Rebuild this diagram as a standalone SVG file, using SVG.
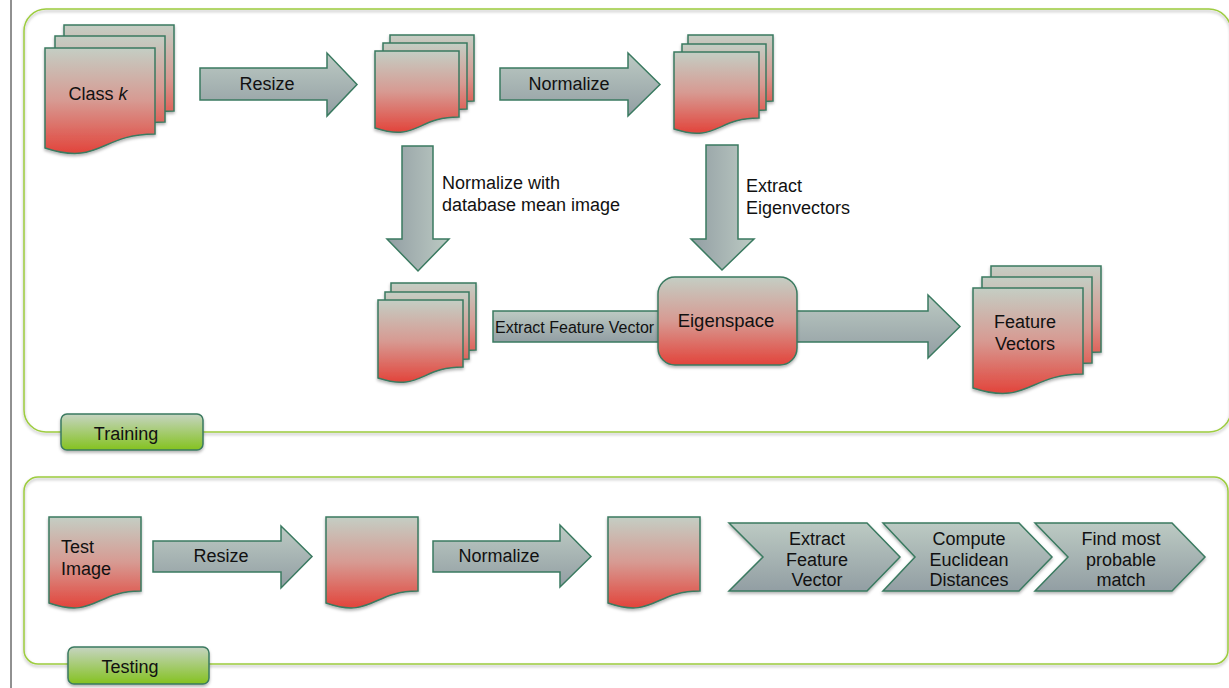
<svg xmlns="http://www.w3.org/2000/svg" width="1229" height="688" viewBox="0 0 1229 688">
<defs>
<linearGradient id="gPage" x1="0" y1="0" x2="0" y2="1">
<stop offset="0" stop-color="#c4cec4"/>
<stop offset="0.5" stop-color="#d79a92"/>
<stop offset="1" stop-color="#e2443b"/>
</linearGradient>
<linearGradient id="gArrowH" x1="0" y1="0" x2="0" y2="1">
<stop offset="0" stop-color="#bccac3"/>
<stop offset="1" stop-color="#929ea3"/>
</linearGradient>
<linearGradient id="gArrowV" x1="0" y1="0" x2="1" y2="0">
<stop offset="0" stop-color="#929ea3"/>
<stop offset="1" stop-color="#bccac3"/>
</linearGradient>
<linearGradient id="gLabel" x1="0" y1="0" x2="0" y2="1">
<stop offset="0" stop-color="#c6d4c2"/>
<stop offset="1" stop-color="#84c21f"/>
</linearGradient>
<filter id="sh" x="-10%" y="-10%" width="120%" height="130%">
<feDropShadow dx="0" dy="2" stdDeviation="1.5" flood-color="#000" flood-opacity="0.3"/>
</filter>
</defs>
<style>
.page{fill:url(#gPage);stroke:#3a7a60;stroke-width:1.5;}
.arr{fill:url(#gArrowH);stroke:#3a7a60;stroke-width:1.5;}
.arrv{fill:url(#gArrowV);stroke:#3a7a60;stroke-width:1.5;}
.frame{fill:none;stroke:#9dcc3f;stroke-width:1.5;}
.lbl{fill:url(#gLabel);stroke:#3a7a60;stroke-width:1.5;}
text{font-family:"Liberation Sans",Arial,sans-serif;font-size:18px;fill:#111;}
.c{text-anchor:middle;}
.sm{font-size:16px;}
</style>
<rect width="1229" height="688" fill="#fff"/>
<line x1="11" y1="0" x2="11" y2="688" stroke="#222" stroke-width="1"/>

<g id="training-frame">
<rect class="frame" x="24" y="9" width="1207" height="423" rx="22" filter="url(#sh)"/>
</g>
<g id="testing-frame">
<rect class="frame" x="24" y="477" width="1204" height="187" rx="14" filter="url(#sh)"/>
</g>

<g id="connectors">
<g id="arrow-resize-train">
<path class="arr" d="M200,68 H327 V53 L357,84.5 L327,116 V100 H200 Z"/>
<text class="c" x="267" y="90">Resize</text>
</g>
<g id="arrow-normalize-train">
<path class="arr" d="M500,68 H628 V53 L660,84.5 L628,116 V100 H500 Z"/>
<text class="c" x="569" y="90">Normalize</text>
</g>
<g id="arrow-normalize-mean">
<path class="arrv" d="M402,146 H433 V239 H449 L418,271 L387,239 H402 Z"/>
<text x="442" y="189">Normalize with</text>
<text x="442" y="211">database mean image</text>
</g>
<g id="arrow-extract-eigen">
<path class="arrv" d="M706,145 H738 V239 H754 L722,270 L691,239 H706 Z"/>
<text x="746" y="192">Extract</text>
<text x="746" y="214">Eigenvectors</text>
</g>
<g id="arrow-extract-feature">
<rect class="arr" x="493" y="311" width="220" height="31"/>
<text class="sm" x="495" y="333">Extract Feature Vector</text>
</g>
<g id="arrow-to-features">
<path class="arr" d="M730,311 H928 V295 L960,326.5 L928,358 V342 H730 Z"/>
</g>
<g id="arrow-resize-test">
<path class="arr" d="M153,541 H281 V526 L312,556.5 L281,588 V572 H153 Z"/>
<text class="c" x="221" y="562">Resize</text>
</g>
<g id="arrow-normalize-test">
<path class="arr" d="M433,541 H560 V525 L591,556.5 L560,587 V572 H433 Z"/>
<text class="c" x="499" y="562">Normalize</text>
</g>
</g>

<g id="class-k" filter="url(#sh)">
<path class="page" d="M64,25 h110 v86 C119,111 119,144 64,125 Z"/>
<path class="page" d="M55,36 h110 v86 C110,122 110,155 55,136 Z"/>
<path class="page" d="M45,48 h110 v86 C100,134 100,166 45,148 Z"/>
</g>
<text x="98" y="100" class="c">Class <tspan font-style="italic">k</tspan></text>

<g id="resized-stack" filter="url(#sh)">
<path class="page" d="M390,35 h84 v66 C432,101 432,126 390,112 Z"/>
<path class="page" d="M383,43 h84 v66 C425,109 425,134 383,120 Z"/>
<path class="page" d="M375,51 h84 v66 C417,117 417,142 375,128 Z"/>
</g>

<g id="normalized-stack" filter="url(#sh)">
<path class="page" d="M688,35 h85 v66 C730.5,101 730.5,126 688,112 Z"/>
<path class="page" d="M682,44 h84 v66 C724,110 724,135 682,121 Z"/>
<path class="page" d="M674,52 h85 v66 C716.5,118 716.5,143 674,129 Z"/>
</g>

<g id="mean-normalized-stack" filter="url(#sh)">
<path class="page" d="M391,283 h85 v67 C433.5,350 433.5,375 391,361 Z"/>
<path class="page" d="M385,292 h84 v67 C427,359 427,384 385,370 Z"/>
<path class="page" d="M378,300 h85 v67 C420.5,367 420.5,392 378,378 Z"/>
</g>

<g id="eigenspace">
<rect class="page" x="658" y="277" width="139" height="88" rx="17" filter="url(#sh)"/>
<text class="c" x="726" y="327" style="font-size:18.5px">Eigenspace</text>
</g>

<g id="feature-vectors">
<g filter="url(#sh)">
<path class="page" d="M991,266 h110 v86 C1046,352 1046,385 991,366 Z"/>
<path class="page" d="M982,277 h110 v86 C1037,363 1037,396 982,377 Z"/>
<path class="page" d="M973,288 h110 v86 C1028,374 1028,406 973,388 Z"/>
</g>
<text class="c" x="1025" y="328">Feature</text>
<text class="c" x="1025" y="350">Vectors</text>
</g>

<g id="training-label">
<rect class="lbl" x="61" y="414" width="142" height="36" rx="6" filter="url(#sh)"/>
<text class="c" x="126" y="440">Training</text>
</g>

<g id="test-image">
<path class="page" d="M49,517 h92 v74 C95,591 95,619 49,603 Z" filter="url(#sh)"/>
<text x="61" y="553">Test</text>
<text x="61" y="575">Image</text>
</g>
<g id="test-resized">
<path class="page" d="M326,517 h92 v74 C372,591 372,619 326,603 Z" filter="url(#sh)"/>
</g>
<g id="test-normalized">
<path class="page" d="M608,517 h92 v74 C654,591 654,619 608,603 Z" filter="url(#sh)"/>
</g>

<g id="step-extract">
<path class="arr" d="M729,523 H867 L900,557 L867,591 H729 L763,557 Z" filter="url(#sh)"/>
<text class="c" x="817" y="545">Extract</text>
<text class="c" x="817" y="565.5">Feature</text>
<text class="c" x="817" y="586">Vector</text>
</g>
<g id="step-compute">
<path class="arr" d="M883,523 H1019 L1052,557 L1019,591 H883 L915,557 Z" filter="url(#sh)"/>
<text class="c" x="969" y="545">Compute</text>
<text class="c" x="969" y="565.5">Euclidean</text>
<text class="c" x="969" y="586">Distances</text>
</g>
<g id="step-match">
<path class="arr" d="M1035,523 H1172 L1205,557 L1172,591 H1035 L1068,557 Z" filter="url(#sh)"/>
<text class="c" x="1121" y="545">Find most</text>
<text class="c" x="1121" y="565.5">probable</text>
<text class="c" x="1121" y="586">match</text>
</g>

<g id="testing-label">
<rect class="lbl" x="68" y="647" width="141" height="37" rx="6" filter="url(#sh)"/>
<text class="c" x="130" y="673">Testing</text>
</g>
</svg>
